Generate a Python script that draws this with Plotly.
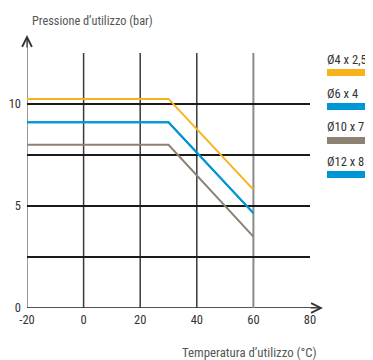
import plotly.graph_objects as go

# ---- data ----
temperature = [-20, 30, 60]
series_names = ["Ø4 x 2,5", "Ø6 x 4", "Ø10 x 7", "Ø12 x 8"]
p_4x25 = [10.25, 10.25, 5.8]
p_6x4 = [9.1, 9.1, 4.65]
p_10x7 = [8.0, 8.0, 3.5]
p_12x8 = [9.1, 9.1, 4.65]
series_colors = ["#F7B41A", "#0096D6", "#8C8173", "#0096D6"]

x_ticks = [-20, 0, 20, 40, 60, 80]
x_tick_labels = ["-20", "0", "20", "40", "60", "80"]
y_ticks = [0, 2.5, 5, 7.5, 10, 12.5]
y_tick_labels = ["0", "", "5", "", "10", ""]
x_grid = [0, 20, 40, 60]
x_grid_colors = ["#3a3a3a", "#3a3a3a", "#3a3a3a", "#8a8a8a"]

FONT = "Roboto Condensed, DejaVu Sans Condensed, sans-serif"

# page body has an 8px default margin: figure is placed at (8, 8)
OFF = 8
W, H = 373 - OFF, 360 - OFF
L, T = 27 - OFF, 53 - OFF
PW, PH = 283, 255
R, B = W - L - PW, H - T - PH


def px_x(p):
    return (p - 27) / PW


def px_y(p):
    return (308 - p) / PH


fig = go.Figure()
values = [p_4x25, p_6x4, p_10x7, p_12x8]
for i in [3, 2, 1, 0]:
    fig.add_trace(go.Scatter(
        x=temperature, y=values[i], mode="lines", name=series_names[i],
        line=dict(color=series_colors[i], width=2), showlegend=False,
        cliponaxis=False,
    ))

shapes = []
for xv, c in zip(x_grid, x_grid_colors):
    shapes.append(dict(type="line", xref="x", yref="y", x0=xv, x1=xv, y0=0, y1=12.5,
                       line=dict(color=c, width=2 if c == "#8a8a8a" else 1.5), layer="below"))
shapes.append(dict(type="line", xref="x", yref="paper", x0=-20, x1=-20, y0=0, y1=px_y(37),
                   line=dict(color="#7a7a7a", width=1.5), layer="below"))
shapes.append(dict(type="line", xref="paper", yref="y", x0=0, x1=px_x(321), y0=0, y1=0,
                   line=dict(color="#1a1a1a", width=1.5), layer="below"))

annotations = []
annotations.append(dict(xref="paper", yref="paper", x=0, y=px_y(35), ax=0, ay=14,
                        showarrow=True, arrowhead=5, arrowsize=1.6, arrowwidth=1.2,
                        arrowcolor="#333333", text=""))
annotations.append(dict(xref="paper", yref="y", x=px_x(323), y=0, ax=-14, ay=0,
                        showarrow=True, arrowhead=5, arrowsize=1.6, arrowwidth=1.2,
                        arrowcolor="#333333", text=""))
annotations.append(dict(xref="paper", yref="paper", x=px_x(30), y=px_y(21), xanchor="left", yanchor="middle",
                        text="Pressione d’utilizzo (bar)", showarrow=False,
                        font=dict(family=FONT, size=12.3, color="#555555")))
annotations.append(dict(xref="paper", yref="paper", x=px_x(319), y=px_y(352), xanchor="right", yanchor="middle",
                        text="Temperatura d’utilizzo (°C)", showarrow=False,
                        font=dict(family=FONT, size=12.8, color="#555555")))

for k, name in enumerate(series_names):
    ty = 59 + k * 34
    by0 = 69 + k * 34
    annotations.append(dict(xref="paper", yref="paper", x=px_x(325), y=px_y(ty),
                            xanchor="left", yanchor="middle", text=name, showarrow=False,
                            font=dict(family=FONT, size=12.5, color="#333333")))
    shapes.append(dict(type="rect", xref="paper", yref="paper",
                       x0=px_x(327), x1=px_x(367), y0=px_y(by0 + 7), y1=px_y(by0),
                       fillcolor=series_colors[k], line=dict(width=0)))

fig.update_layout(
    width=W, height=H,
    margin=dict(l=L, r=R, t=T, b=B, autoexpand=False),
    paper_bgcolor="white", plot_bgcolor="white",
    font=dict(family=FONT, size=12, color="#333333"),
    xaxis=dict(range=[-20, 80], tickvals=x_ticks, ticktext=x_tick_labels,
               showgrid=False, zeroline=False, showline=False, ticks="",
               ticklabelstandoff=2, automargin=False,
               tickfont=dict(size=12.5, color="#333333")),
    yaxis=dict(range=[0, 12.5], tickvals=y_ticks, ticktext=y_tick_labels,
               showgrid=True, gridcolor="#1a1a1a", gridwidth=1.5, zeroline=False,
               showline=False, ticks="", ticklabelstandoff=5, automargin=False,
               tickfont=dict(size=12.5, color="#333333")),
    shapes=shapes, annotations=annotations,
)

fig.write_html("out.html")
